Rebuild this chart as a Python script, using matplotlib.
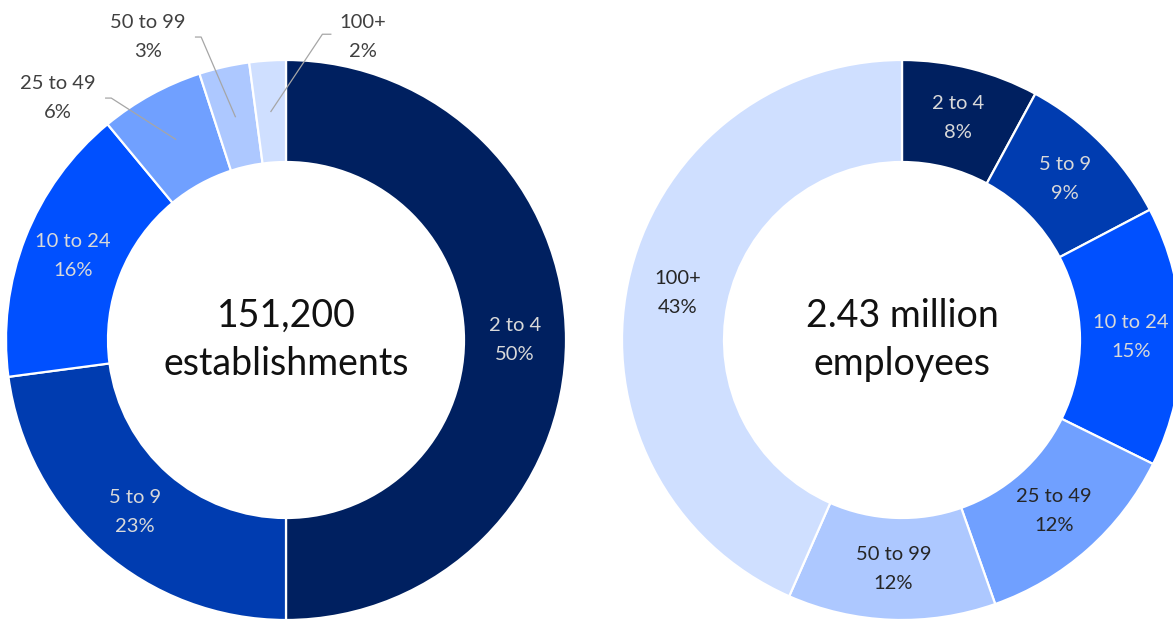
import matplotlib
matplotlib.use("Agg")
import matplotlib.pyplot as plt
import numpy as np

# ---- data ----
categories = ["2 to 4", "5 to 9", "10 to 24", "25 to 49", "50 to 99", "100+"]
establishments_pct = [50.0, 22.9, 16.1, 6.0, 2.9, 2.1]
employees_pct = [7.9, 9.4, 15.0, 12.3, 12.0, 43.4]
left_center = "151,200\nestablishments"
right_center = "2.43 million\nemployees"

# ---- style ----
colors = ["#002060", "#003CB0", "#0050FF", "#70A0FF", "#ADC8FF", "#CFDFFF"]
light_txt = "#D9D9D9"
dark_txt = "#262626"
text_colors = [light_txt, light_txt, light_txt, dark_txt, dark_txt, dark_txt]
FONT = ["Lato", "DejaVu Sans"]
plt.rcParams["font.family"] = FONT

W, H = 1173, 621
fig = plt.figure(figsize=(W / 100, H / 100), dpi=100)
RING = 1 - 178 / 280.0
LBL_FS = 14.5
LBL_LS = 1.85


def make_ax(cx, cy, r):
    ax = fig.add_axes([(cx - r) / W, (H - cy - r) / H, 2 * r / W, 2 * r / H])
    return ax


def donut(ax, values, center_text, outside=None):
    outside = outside or {}
    wedges, _ = ax.pie(values, colors=colors, startangle=90, counterclock=False,
                       radius=1, wedgeprops=dict(width=RING, edgecolor="white", linewidth=1.6))
    ax.set_xlim(-1, 1)
    ax.set_ylim(-1, 1)
    ax.set_aspect("equal")
    ax.axis("off")
    for w in wedges:
        w.set_clip_on(False)
    rmid = 1 - RING / 2
    for w, cat, v, tc in zip(wedges, categories, values, text_colors):
        ang = np.deg2rad((w.theta1 + w.theta2) / 2)
        mx, my = rmid * np.cos(ang), rmid * np.sin(ang)
        label = f"{cat}\n{v:.0f}%"
        if cat in outside:
            tx, ty, side = outside[cat]
            ax.text(tx, ty, label, ha="center", va="center", fontsize=LBL_FS,
                    color="#404040", linespacing=LBL_LS, clip_on=False)
            if side == "right":
                x0 = tx + 0.17
                pts = [(x0, ty), (x0 + 0.02, ty), (mx, my)]
            else:
                x0 = tx - 0.115
                pts = [(x0, ty + 0.01), (x0 - 0.03, ty + 0.01), (mx, my)]
            xs, ys = zip(*pts)
            ax.plot(xs, ys, color="#A6A6A6", lw=0.9, clip_on=False)
        else:
            ax.text(mx, my, label, ha="center", va="center", fontsize=LBL_FS,
                    color=tc, linespacing=LBL_LS)
    ax.text(0, 0, center_text, ha="center", va="center", fontsize=27,
            color="#111111", linespacing=1.42)


axL = make_ax(286, 340, 280)
donut(axL, establishments_pct, left_center,
      outside={"25 to 49": (-0.814, 0.864, "right"),
               "50 to 99": (-0.493, 1.082, "right"),
               "100+": (0.275, 1.082, "left")})

axR = make_ax(902, 340, 280)
donut(axR, employees_pct, right_center)

fig.savefig("out.png", dpi=100)
